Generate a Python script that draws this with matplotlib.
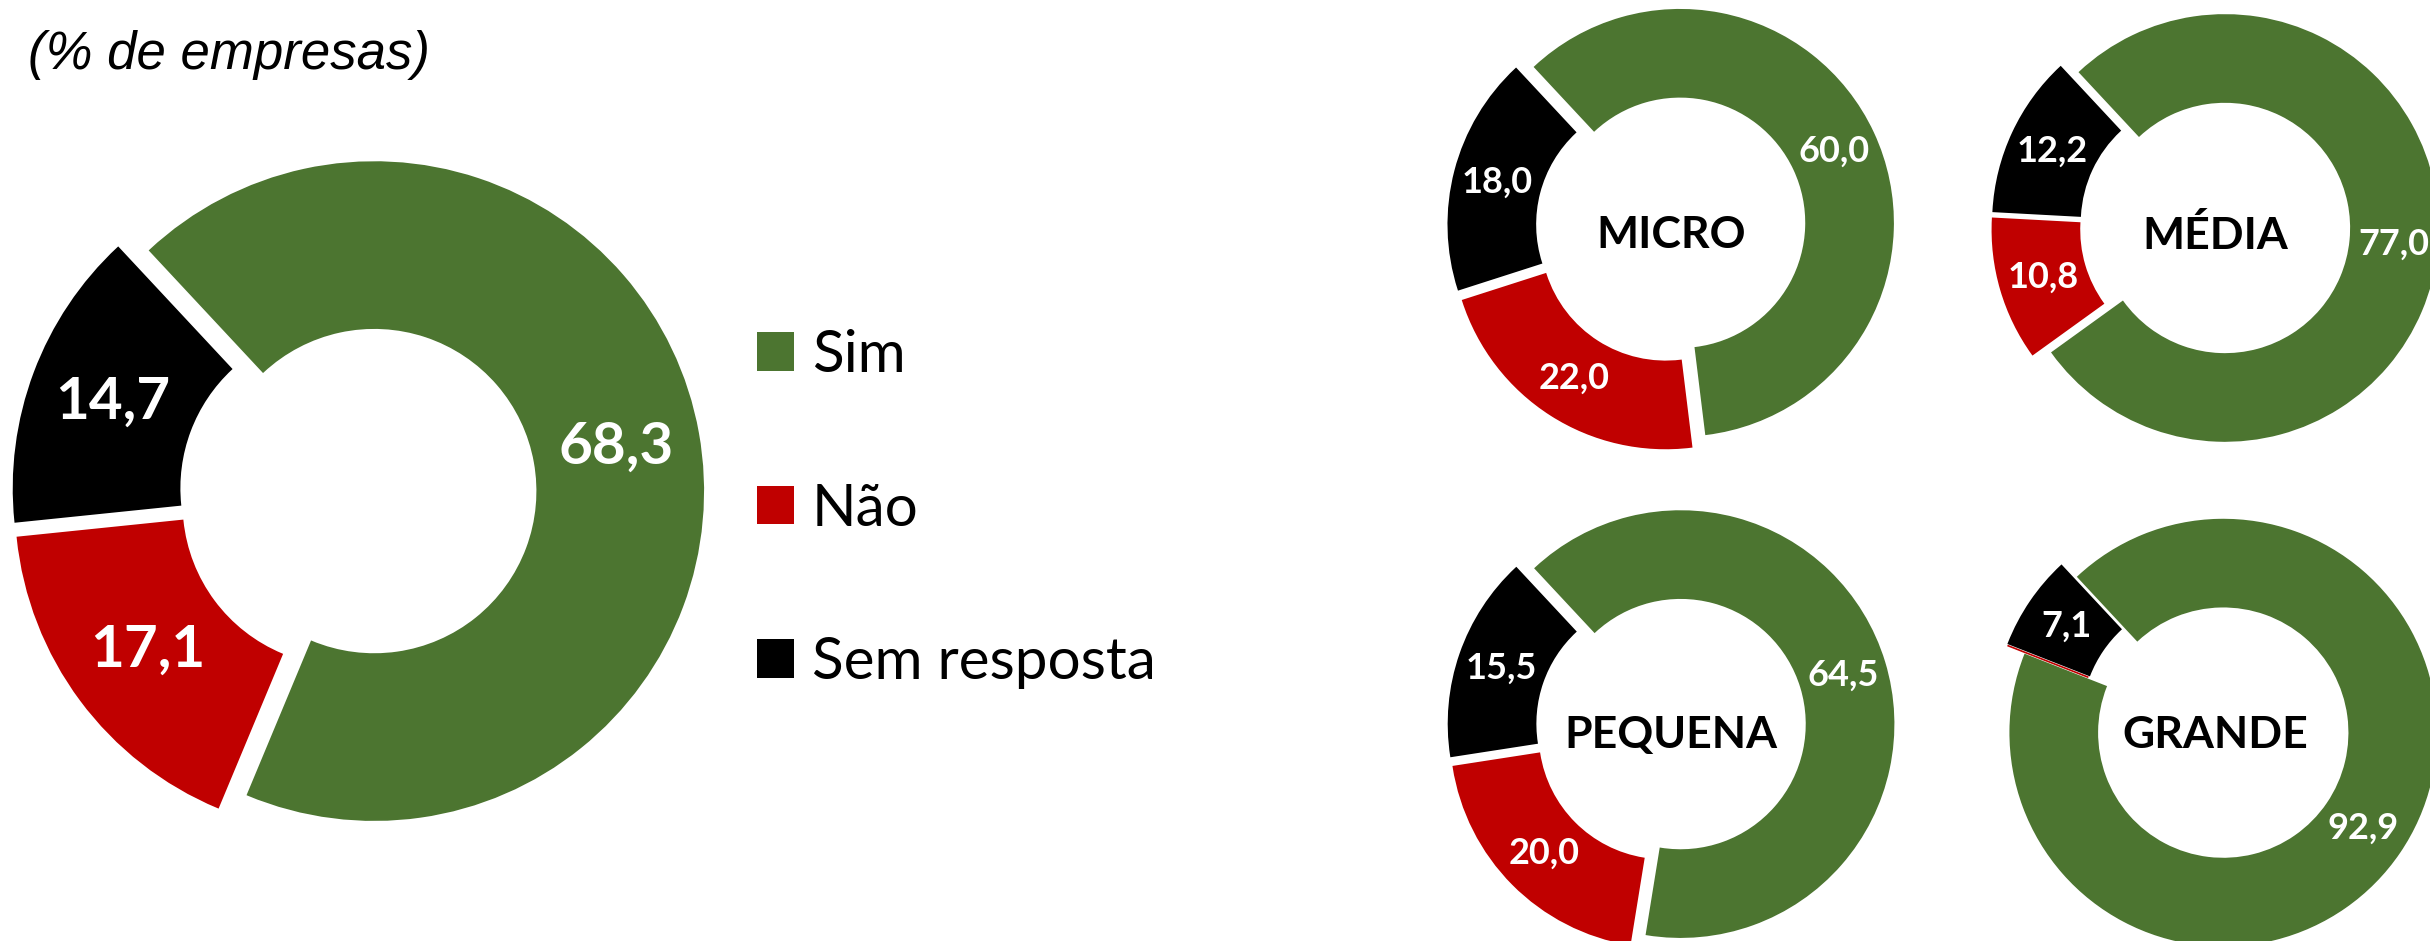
import numpy as np
import matplotlib
matplotlib.use("Agg")
import matplotlib.pyplot as plt
from matplotlib.patches import Patch

# categories and values (% de empresas)
categories = ["Sim", "Não", "Sem resposta"]
colors = ["#4C7530", "#C00000", "#000000"]

total = [68.3, 17.1, 14.7]
micro = [60.0, 22.0, 18.0]
pequena = [64.5, 20.0, 15.5]
media = [77.0, 10.8, 12.2]
grande = [92.9, 0.0, 7.1]

sizes = ["MICRO", "PEQUENA", "MÉDIA", "GRANDE"]
size_values = [micro, pequena, media, grande]

W, H = 2430, 941
fig = plt.figure(figsize=(W / 100, H / 100), dpi=100)
ax = fig.add_axes([0, 0, 1, 1])


def donut(vals, cx, cy, r, width, expl, fs, name=None, name_fs=32):
    # explode is in data units here (axes are in pixels)
    wedges, _ = ax.pie(vals, colors=colors, startangle=133, counterclock=False,
                       radius=r, center=(cx, H - cy), frame=True,
                       explode=[expl] * len(vals),
                       wedgeprops=dict(width=width, linewidth=0))
    for w, v in zip(wedges, vals):
        # zero slices show up as a thin line, like in the original
        w.set_edgecolor(w.get_facecolor())
        w.set_linewidth(1.2)
        if v == 0:
            continue
        ang = np.deg2rad((w.theta1 + w.theta2) / 2)
        rr = r - width / 2
        x = w.center[0] + rr * np.cos(ang)
        y = w.center[1] + rr * np.sin(ang)
        ax.text(x, y, f"{v:.1f}".replace(".", ","), color="white", fontsize=fs,
                fontweight="bold", family="Lato", ha="center", va="center")
    if name:
        ax.text(cx, H - cy - 8, name, color="black", fontsize=name_fs, fontweight="bold",
                family="Lato", ha="center", va="center")


# main doughnut
donut(total, 358, 494, 329, 166, 16.5, 42)

# doughnuts by company size
positions = [(1671, 227), (1671, 727), (2215, 227), (2215, 727)]
for name, vals, (cx, cy) in zip(sizes, size_values, positions):
    donut(vals, cx, cy, 213, 87, 10, 26, name)

ax.set_xlim(0, W)
ax.set_ylim(0, H)
ax.set_aspect("equal")
ax.axis("off")

handles = [Patch(facecolor=c, edgecolor="none") for c in colors]
fig.legend(handles, categories, loc="center left", bbox_to_anchor=(757 / W, 1 - 509 / H),
           frameon=False, prop={"family": "Lato", "size": 42},
           handlelength=0.64, handleheight=0.64, handletextpad=0.3,
           labelspacing=1.72, borderpad=0, borderaxespad=0)

fig.text(28 / W, 1 - 55 / H, "(% de empresas)", fontsize=38, fontstyle="italic",
         family="Liberation Sans", ha="left", va="center")

plt.savefig("out.png", dpi=100)
plt.close()
